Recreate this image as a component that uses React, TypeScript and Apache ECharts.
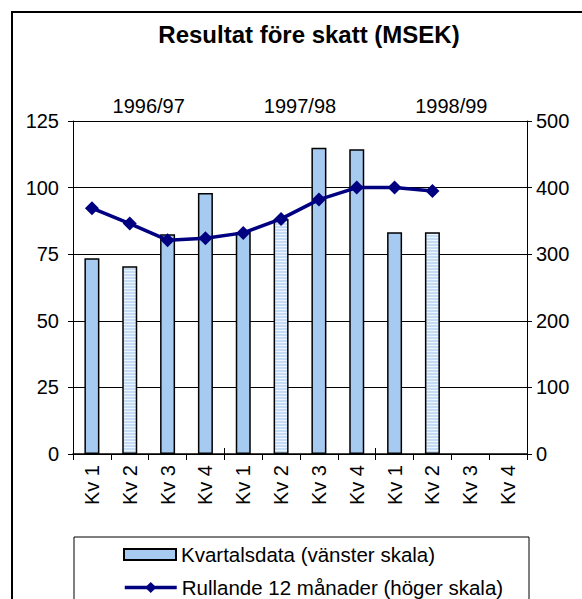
import React, { useEffect, useRef } from "react";
import * as echarts from "echarts";

const quarters = ["Kv 1", "Kv 2", "Kv 3", "Kv 4", "Kv 1", "Kv 2", "Kv 3", "Kv 4", "Kv 1", "Kv 2", "Kv 3", "Kv 4"];
const years = ["1996/97", "1997/98", "1998/99"];
const quarterly = [73.5, 70.5, 82.5, 98, 83.3, 88.2, 115, 114.4, 83.2, 83.2, null, null];
const rolling = [369, 346, 321, 324, 332, 353, 382, 400, 400, 395, null, null];
const striped = [false, true, false, false, false, true, false, false, false, true, false, false];

const FONT = "Liberation Sans, Arial, sans-serif";
const BAR_NAME = "Kvartalsdata (vänster skala)";
const LINE_NAME = "Rullande 12 månader (höger skala)";

function makePattern(): HTMLCanvasElement {
  const c = document.createElement("canvas");
  c.width = 4;
  c.height = 3;
  const ctx = c.getContext("2d")!;
  ctx.fillStyle = "#c4dbf5";
  ctx.fillRect(0, 0, 4, 3);
  ctx.fillStyle = "#eef5fd";
  ctx.fillRect(0, 0, 4, 1);
  return c;
}

export default function App() {
  const ref = useRef<HTMLDivElement>(null);
  useEffect(() => {
    if (!ref.current) return;
    const chart = echarts.init(ref.current, undefined, { renderer: "svg" });
    const pattern = makePattern();
    const barData = quarterly.map((v, i) =>
      v == null
        ? "-"
        : striped[i]
        ? { value: v, itemStyle: { color: { image: pattern, repeat: "repeat" } } }
        : v
    );
    const legendText = { fontFamily: FONT, fontSize: 20.5, color: "#000" };
    chart.setOption({
      animation: false,
      backgroundColor: "#ffffff",
      textStyle: { fontFamily: FONT },
      title: {
        text: "Resultat före skatt (MSEK)",
        left: 304,
        textAlign: "center",
        top: 17,
        textStyle: { fontFamily: FONT, fontSize: 24, fontWeight: "bold", color: "#000" },
      },
      graphic: [
        {
          type: "rect",
          shape: { x: 12, y: 12, width: 600, height: 600 },
          style: { fill: "none", stroke: "#000", lineWidth: 2 },
          z: 100,
          silent: true,
        },
        {
          type: "rect",
          shape: { x: 74, y: 537, width: 455, height: 80 },
          style: { fill: "none", stroke: "#000", lineWidth: 1 },
          z: 10,
          silent: true,
        },
      ],
      legend: [
        {
          left: 118,
          top: 539,
          itemWidth: 52,
          itemHeight: 11,
          itemGap: 7,
          textStyle: legendText,
          data: [{ name: BAR_NAME, icon: "rect" }],
        },
        {
          left: 118,
          top: 572,
          itemWidth: 52,
          itemHeight: 14,
          textStyle: legendText,
          lineStyle: { width: 3.5, color: "#000080" },
          data: [{ name: LINE_NAME }],
        },
      ],
      grid: { left: 73, right: 55, top: 121, bottom: 145, containLabel: false },
      xAxis: [
        {
          type: "category",
          data: quarters,
          position: "bottom",
          boundaryGap: true,
          axisLine: { lineStyle: { color: "#000", width: 1 } },
          axisTick: { show: true, length: 6, lineStyle: { color: "#000" } },
          axisLabel: { rotate: 90, margin: 11, fontSize: 20, color: "#000", fontFamily: FONT, interval: 0 },
        },
        {
          type: "category",
          data: years,
          position: "top",
          boundaryGap: true,
          axisLine: { lineStyle: { color: "#000", width: 1.5 } },
          axisTick: { show: true, length: 6, lineStyle: { color: "#000" } },
          axisLabel: { margin: 5, fontSize: 20, color: "#000", fontFamily: FONT },
        },
      ],
      yAxis: [
        {
          type: "value",
          min: 0,
          max: 125,
          interval: 25,
          position: "left",
          axisLine: { show: true, lineStyle: { color: "#000", width: 1 } },
          axisTick: { show: true, length: 5, lineStyle: { color: "#000" } },
          axisLabel: { margin: 14, fontSize: 20, color: "#000", fontFamily: FONT },
          splitLine: { show: true, lineStyle: { color: "#000", width: 1 } },
        },
        {
          type: "value",
          min: 0,
          max: 500,
          interval: 100,
          position: "right",
          axisLine: { show: true, lineStyle: { color: "#000", width: 1 } },
          axisTick: { show: true, length: 5, lineStyle: { color: "#000" } },
          axisLabel: { margin: 9, fontSize: 20, color: "#000", fontFamily: FONT },
          splitLine: { show: false },
        },
        {
          type: "value",
          min: 0,
          max: 500,
          interval: 100,
          position: "right",
          axisLine: { show: false },
          axisTick: { show: true, inside: true, length: 5, lineStyle: { color: "#000" } },
          axisLabel: { show: false },
          splitLine: { show: false },
        },
      ],
      series: [
        {
          name: BAR_NAME,
          type: "bar",
          xAxisIndex: 0,
          yAxisIndex: 0,
          barWidth: 15,
          data: barData,
          itemStyle: { color: "#a6caf0", borderColor: "#000", borderWidth: 1.5 },
        },
        {
          name: LINE_NAME,
          type: "line",
          xAxisIndex: 0,
          yAxisIndex: 1,
          data: rolling.map((v) => (v == null ? "-" : v)),
          symbol: "diamond",
          symbolSize: 14,
          itemStyle: { color: "#000080" },
          lineStyle: { color: "#000080", width: 3.5 },
          z: 5,
        },
      ],
    });
    return () => chart.dispose();
  }, []);
  return (
    <div style={{ position: "absolute", left: 0, top: 0, width: 582, height: 599, overflow: "hidden" }}>
      <div ref={ref} style={{ position: "absolute", left: 0, top: 0, width: 582, height: 599 }} />
    </div>
  );
}
